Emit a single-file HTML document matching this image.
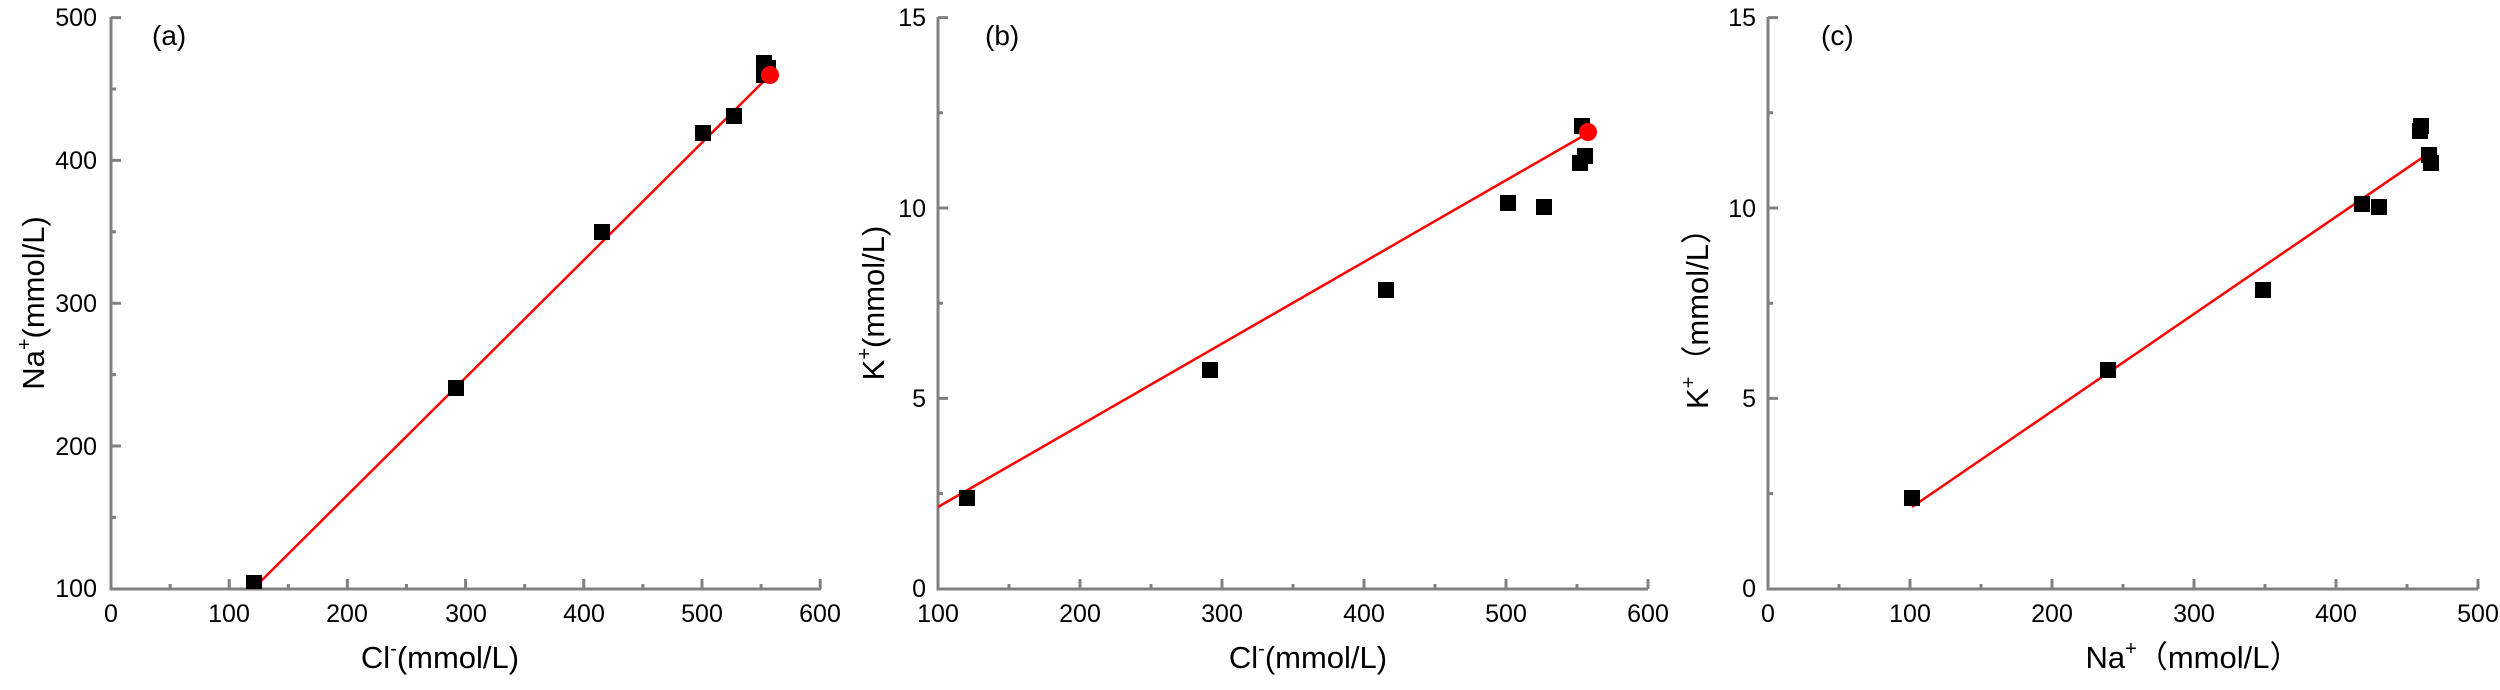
<!DOCTYPE html>
<html><head><meta charset="utf-8"><style>
html,body{margin:0;padding:0;background:#fff;}
svg{display:block;}
text{font-family:"Liberation Sans","Noto Sans CJK SC",sans-serif;fill:#000;}
</style></head><body>
<svg width="2500" height="690" xmlns="http://www.w3.org/2000/svg">
<g stroke="#808080" stroke-width="3" fill="none">
<path d="M111,17 V589 H821"/>
<path d="M111,17.6h10 M111,160.4h10 M111,303.2h10 M111,446h10 M111,89h5 M111,231.8h5 M111,374.6h5 M111,517.4h5"/>
<path d="M229.2,589v-10 M347.4,589v-10 M465.6,589v-10 M583.8,589v-10 M702,589v-10 M820.2,589v-10 M170.1,589v-5 M288.3,589v-5 M406.5,589v-5 M524.7,589v-5 M642.9,589v-5 M761.1,589v-5"/>
<path d="M938,17 V589 H1648"/>
<path d="M938,17.6h10 M938,208h10 M938,398.4h10 M938,112.8h5 M938,303.2h5 M938,493.6h5"/>
<path d="M1080,589v-10 M1222,589v-10 M1364,589v-10 M1506,589v-10 M1648,589v-10 M1009,589v-5 M1151,589v-5 M1293,589v-5 M1435,589v-5 M1577,589v-5"/>
<path d="M1768,17 V589 H2478"/>
<path d="M1768,17.6h10 M1768,208h10 M1768,398.4h10 M1768,112.8h5 M1768,303.2h5 M1768,493.6h5"/>
<path d="M1910,589v-10 M2052,589v-10 M2194,589v-10 M2336,589v-10 M2478,589v-10 M1839,589v-5 M1981,589v-5 M2123,589v-5 M2265,589v-5 M2407,589v-5"/>
</g>
<g font-size="25">
<g text-anchor="end">
<text x="97" y="26">500</text><text x="97" y="169">400</text><text x="97" y="312">300</text><text x="97" y="455">200</text><text x="97" y="597">100</text>
<text x="926" y="26">15</text><text x="926" y="217">10</text><text x="926" y="407">5</text><text x="926" y="597">0</text>
<text x="1756" y="26">15</text><text x="1756" y="217">10</text><text x="1756" y="407">5</text><text x="1756" y="597">0</text>
</g>
<g text-anchor="middle">
<text x="111" y="622">0</text><text x="229" y="622">100</text><text x="347" y="622">200</text><text x="466" y="622">300</text><text x="584" y="622">400</text><text x="702" y="622">500</text><text x="820" y="622">600</text>
<text x="938" y="622">100</text><text x="1080" y="622">200</text><text x="1222" y="622">300</text><text x="1364" y="622">400</text><text x="1506" y="622">500</text><text x="1648" y="622">600</text>
<text x="1768" y="622">0</text><text x="1910" y="622">100</text><text x="2052" y="622">200</text><text x="2194" y="622">300</text><text x="2336" y="622">400</text><text x="2478" y="622">500</text>
</g>
</g>
<g font-size="28">
<text x="152" y="45">(a)</text><text x="985" y="45">(b)</text><text x="1821" y="45">(c)</text>
</g>
<g font-size="31">
<text x="440" y="668" text-anchor="middle">Cl<tspan font-size="20" dy="-13">-</tspan><tspan dy="13">(mmol/L)</tspan></text>
<text x="1308" y="668" text-anchor="middle">Cl<tspan font-size="20" dy="-13">-</tspan><tspan dy="13">(mmol/L)</tspan></text>
<text x="2193" y="668" text-anchor="middle">Na<tspan font-size="20" dy="-13">+</tspan><tspan dy="13">（mmol/L）</tspan></text>
<text transform="translate(44,303) rotate(-90)" text-anchor="middle">Na<tspan font-size="20" dy="-13">+</tspan><tspan dy="13">(mmol/L)</tspan></text>
<text transform="translate(884,303) rotate(-90)" text-anchor="middle">K<tspan font-size="20" dy="-13">+</tspan><tspan dy="13">(mmol/L)</tspan></text>
<text transform="translate(1708,311) rotate(-90)" text-anchor="middle">K<tspan font-size="20" dy="-13">+</tspan><tspan dy="13">（mmol/L）</tspan></text>
</g>
<g stroke="#ff0000" stroke-width="2.5">
<line x1="253" y1="589" x2="770" y2="75"/>
<line x1="938" y1="507" x2="1583" y2="136"/>
<line x1="1912" y1="507" x2="2432" y2="151"/>
</g>
<g fill="#000">
<rect x="246" y="575" width="16" height="14"/>
<rect x="448" y="380" width="16" height="16"/>
<rect x="594" y="224" width="16" height="16"/>
<rect x="695" y="125" width="16" height="16"/>
<rect x="726" y="108" width="16" height="16"/>
<rect x="756" y="55" width="16" height="16"/>
<rect x="760" y="60" width="16" height="16"/>
<rect x="756" y="67" width="16" height="16"/>
<rect x="959" y="490" width="16" height="16"/>
<rect x="1202" y="362" width="16" height="16"/>
<rect x="1378" y="282" width="16" height="16"/>
<rect x="1500" y="195" width="16" height="16"/>
<rect x="1536" y="199" width="16" height="16"/>
<rect x="1574" y="118" width="16" height="16"/>
<rect x="1577" y="148" width="16" height="16"/>
<rect x="1572" y="155" width="16" height="16"/>
<rect x="1904" y="490" width="16" height="16"/>
<rect x="2100" y="362" width="16" height="16"/>
<rect x="2255" y="282" width="16" height="16"/>
<rect x="2354" y="196" width="16" height="16"/>
<rect x="2371" y="199" width="16" height="16"/>
<rect x="2413" y="118" width="16" height="16"/>
<rect x="2412" y="123" width="16" height="16"/>
<rect x="2421" y="147" width="16" height="16"/>
<rect x="2423" y="155" width="16" height="16"/>
</g>
<circle cx="770" cy="75" r="9" fill="#ff0000"/>
<circle cx="1588" cy="132" r="9" fill="#ff0000"/>
</svg>
</body></html>
